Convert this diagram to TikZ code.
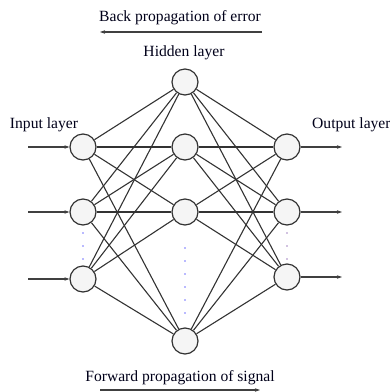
\documentclass[tikz,border=0pt]{standalone}
\usepackage{fontspec}
\setmainfont{Liberation Serif}
\usepackage{tikz}
\usetikzlibrary{arrows.meta,positioning}

\tikzset{
	neuron/.style={circle,draw=black!80,line width=1.2pt,fill=black!4,minimum size=26pt,inner sep=0pt},
	link/.style={draw=black!80,line width=1.1pt},
	signal/.style={draw=black!75,line width=1.4pt,-{Stealth[length=5pt,width=3.5pt]}},
	caption/.style={font=\fontsize{15.6}{18}\selectfont,text=black!90!blue,inner sep=0pt}
}

\begin{document}
\begin{tikzpicture}[x=1pt,y=-1pt]
			\useasboundingbox (0,0) rectangle (390,392);
			% input layer
			\node[neuron] (i1) at (83,147) {};
			\node[neuron] (i2) at (83,212) {};
			\node[neuron] (i3) at (83,279) {};
			% hidden layer
			\node[neuron] (h1) at (185,82) {};
			\node[neuron] (h2) at (185,147) {};
			\node[neuron] (h3) at (185,212) {};
			\node[neuron] (h4) at (185,341) {};
			% output layer
			\node[neuron] (o1) at (287,147) {};
			\node[neuron] (o2) at (287,212) {};
			\node[neuron] (o3) at (287,277) {};
			% weights
			\foreach \i in {1,2,3} {
				\foreach \h in {1,...,4} {
					\draw[link] (i\i) -- (h\h);
					\draw[link] (h\h) -- (o\i);
				}
			}
			% inputs and outputs
			\foreach \i/\y in {1/147,2/212,3/279} {
				\coordinate (x\i) at (28,\y);
				\draw[signal] (x\i) -- (i\i);
			}
			\foreach \i/\y in {1/147,2/212,3/277} {
				\coordinate (y\i) at (342,\y);
				\draw[signal] (o\i) -- (y\i);
			}
			% dots
			\foreach \y in {233,246,259} {
				\fill[blue!55] (83,\y) circle (0.9);
				\fill[orange!40!blue!60] (287,\y) circle (0.9);
			}
			\foreach \y in {248,261,274,287,300,313} {
				\fill[blue!55] (185,\y) circle (0.9);
			}
			% labels
			\node[caption] (lin) at (44,125) {Input layer};
			\node[caption,anchor=west] (lout) at (312,125) {Output layer};
			\node[caption] (lhid) at (184,53) {Hidden layer};
			\node[caption] (lback) at (180,18) {Back propagation of error};
			\node[caption] (lfwd) at (180,378) {Forward propagation of signal};
			% propagation arrows
			\coordinate (b1) at (262,32);
			\coordinate (b2) at (100,32);
			\draw[signal] (b1) -- (b2);
			\coordinate (f1) at (100,390);
			\coordinate (f2) at (260,390);
			\draw[signal] (f1) -- (f2);
		\end{tikzpicture}
\end{document}
